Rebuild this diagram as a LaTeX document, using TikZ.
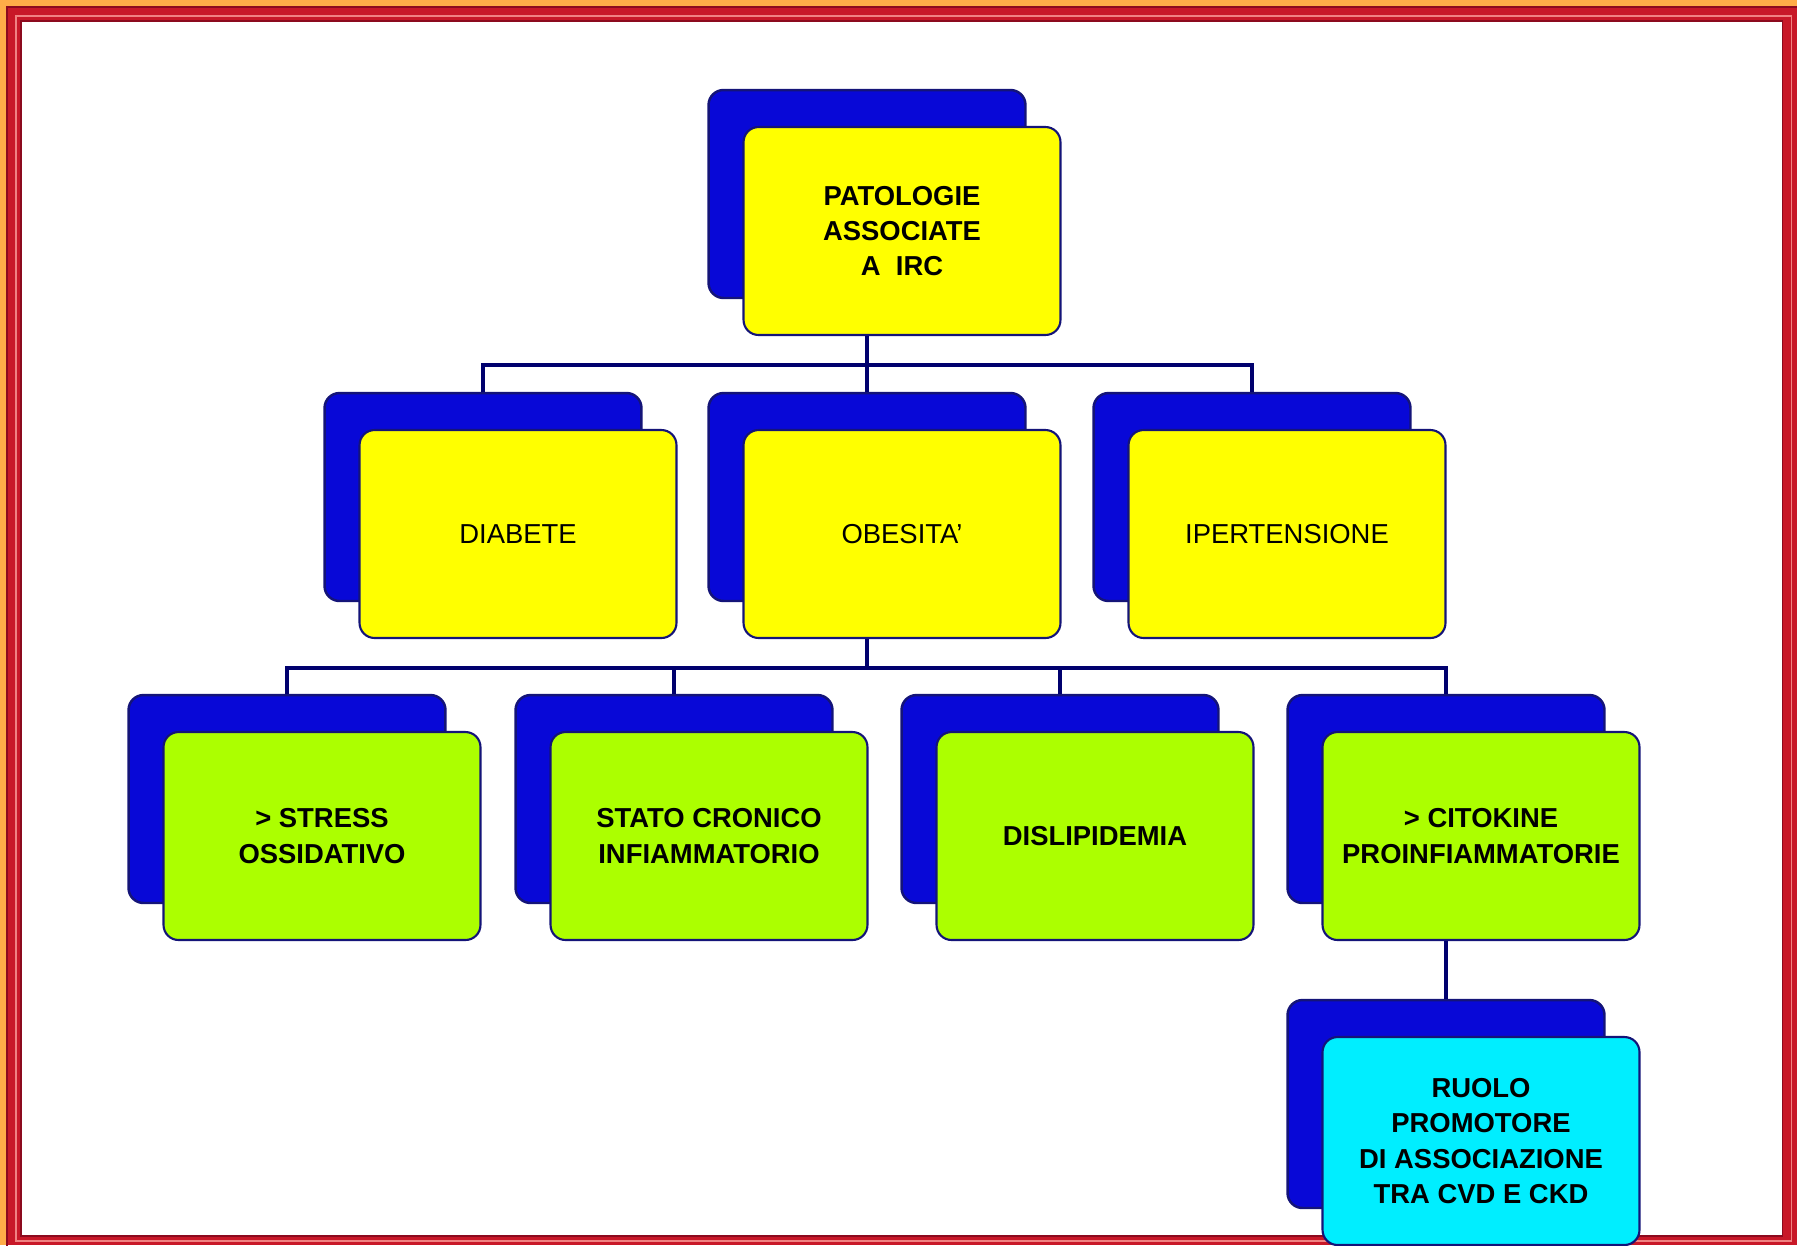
\documentclass[tikz,border=0pt]{standalone}
\usepackage{fontspec}
\setmainfont{Liberation Sans}
\usepackage{tikz}

\definecolor{frameorange}{RGB}{255,172,72}
\definecolor{framered}{RGB}{200,24,40}
\definecolor{framedark}{RGB}{140,10,30}
\definecolor{framepink}{RGB}{240,130,130}
\definecolor{cardblue}{RGB}{8,8,215}
\definecolor{cardedge}{RGB}{20,20,120}
\definecolor{cardyellow}{RGB}{255,255,0}
\definecolor{cardgreen}{RGB}{172,255,0}
\definecolor{cardcyan}{RGB}{0,238,255}
\definecolor{linknavy}{RGB}{0,0,110}

\begin{document}
\begin{tikzpicture}[x=0.02cm,y=-0.02cm,
    card/.style={shape=rectangle,rounded corners=0.3cm,minimum width=6.34cm,minimum height=4.16cm,inner sep=0pt,align=center,font=\fontsize{15.6}{20}\selectfont},
    back/.style={card,fill=cardblue,draw=cardedge,line width=1.4pt},
    front/.style={card,draw=cardedge,line width=1.2pt},
    bold/.style={font=\fontsize{15.6}{20}\selectfont\bfseries},
    link/.style={draw=linknavy,line width=2pt}]
    \useasboundingbox (0,0) rectangle (1797,1245);
    % frame
    \fill[frameorange] (0,0) rectangle (1797,1245);
    \fill[framered] (6,6) rectangle (1797,1245);
    \draw[framedark,line width=1pt] (7,7) rectangle (1810,1260);
    \draw[framepink,line width=0.6pt] (16,16) rectangle (1791,1241);
    \fill[white] (20,20) rectangle (1783,1237);
    \draw[framedark,line width=0.6pt] (21,21) rectangle (1782,1236);

    % back cards
    \node[back] (rootb) at (867,194) {};
    \node[back] (diabb) at (483,497) {};
    \node[back] (obesb) at (867,497) {};
    \node[back] (ipertb) at (1252,497) {};
    \node[back] (stressb) at (287,799) {};
    \node[back] (statob) at (674,799) {};
    \node[back] (dislib) at (1060,799) {};
    \node[back] (citob) at (1446,799) {};
    \node[back] (ruolob) at (1446,1104) {};

    % front cards
    \node[front,bold,fill=cardyellow] (root) at ([shift={(35,37)}]rootb) {PATOLOGIE\\ASSOCIATE\\A~~IRC};
    \node[front,fill=cardyellow] (diab) at ([shift={(35,37)}]diabb) {DIABETE};
    \node[front,fill=cardyellow] (obes) at ([shift={(35,37)}]obesb) {OBESITA'};
    \node[front,fill=cardyellow] (ipert) at ([shift={(35,37)}]ipertb) {IPERTENSIONE};
    \node[front,bold,fill=cardgreen] (stress) at ([shift={(35,37)}]stressb) {> STRESS\\OSSIDATIVO};
    \node[front,bold,fill=cardgreen] (stato) at ([shift={(35,37)}]statob) {STATO CRONICO\\INFIAMMATORIO};
    \node[front,bold,fill=cardgreen] (disli) at ([shift={(35,37)}]dislib) {DISLIPIDEMIA};
    \node[front,bold,fill=cardgreen] (cito) at ([shift={(35,37)}]citob) {> CITOKINE\\PROINFIAMMATORIE};
    \node[front,bold,fill=cardcyan] (ruolo) at ([shift={(35,37)}]ruolob) {RUOLO\\PROMOTORE\\DI ASSOCIAZIONE\\TRA CVD E CKD};

    % connectors
    \coordinate (bus1) at (867,365);
    \coordinate (bus2) at (867,668);
    \draw[link] (rootb |- root.south) -- (bus1);
    \draw[link] (diabb.north) |- (bus1) -| (ipertb.north);
    \draw[link] (bus1) -- (obesb.north);
    \draw[link] (obesb |- obes.south) -- (bus2);
    \draw[link] (stressb.north) |- (bus2) -| (citob.north);
    \draw[link] (statob.north) -- (statob |- bus2);
    \draw[link] (dislib.north) -- (dislib |- bus2);
    \draw[link] (citob |- cito.south) -- (ruolob.north);
\end{tikzpicture}
\end{document}
